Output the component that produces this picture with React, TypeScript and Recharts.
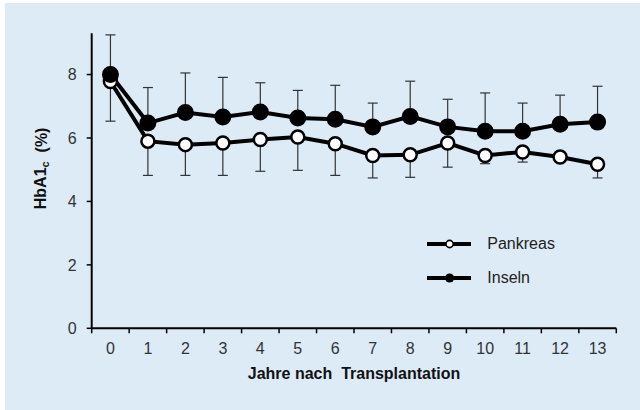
import React from 'react';
import { LineChart, Line, XAxis, YAxis, ErrorBar, Legend, Label } from 'recharts';

const years = [0, 1, 2, 3, 4, 5, 6, 7, 8, 9, 10, 11, 12, 13];
const pankreas = [7.78, 5.9, 5.79, 5.84, 5.95, 6.03, 5.82, 5.45, 5.47, 5.84, 5.45, 5.56, 5.4, 5.17];
const pankreasErrLow = [1.25, 1.08, 0.97, 1.02, 1.0, 1.05, 1.0, 0.71, 0.71, 0.76, 0.26, 0.32, 0.15, 0.43];
const inseln = [8.0, 6.47, 6.8, 6.66, 6.82, 6.63, 6.59, 6.35, 6.68, 6.35, 6.21, 6.21, 6.43, 6.5];
const inselnErrHigh = [1.25, 1.12, 1.25, 1.25, 0.92, 0.87, 1.07, 0.75, 1.11, 0.87, 1.21, 0.89, 0.92, 1.13];
const yTicks = [0, 2, 4, 6, 8];
const seriesNames = ['Pankreas', 'Inseln'];

const data = years.map((y, i) => ({
  year: y,
  pankreas: pankreas[i],
  pErr: [pankreasErrLow[i], 0],
  inseln: inseln[i],
  iErr: [0, inselnErrHigh[i]],
}));

const xTicks = years.flatMap((y) => [y - 0.5, y]).concat([years[years.length - 1] + 0.5]);

const FONT = "'Liberation Sans', Arial, Helvetica, sans-serif";
const TS = 5;
const TM = 9;

const XTick = (props: any) => {
  const { x, y, payload } = props;
  const v = payload.value;
  if (!Number.isInteger(v)) {
    return <line x1={x} x2={x} y1={y - TM - TS} y2={y - TM} stroke="#000" strokeWidth={1.5} />;
  }
  return (
    <text x={x} y={y} dy="0.71em" textAnchor="middle" fill="#333" fontSize={16} fontFamily={FONT}>
      {v}
    </text>
  );
};

const YLabel = (props: any) => {
  const vb = props.viewBox || { x: 0, y: 0, width: 0, height: 0 };
  const cx = vb.x + 36;
  const cy = vb.y + vb.height / 2 - 12.4;
  return (
    <text
      x={cx}
      y={cy}
      transform={`rotate(-90 ${cx} ${cy})`}
      textAnchor="middle"
      dominantBaseline="central"
      fontSize={16}
      fontWeight="bold"
      fontFamily={FONT}
      fill="#111"
    >
      HbA1
      <tspan fontSize={11} dy={4}>c</tspan>
      <tspan dy={-4}>{'\u00A0 (%)'}</tspan>
    </text>
  );
};

const XLabel = (props: any) => {
  const vb = props.viewBox || { x: 0, y: 0, width: 0, height: 0 };
  return (
    <text
      x={vb.x + vb.width / 2}
      y={vb.y + 50.7}
      textAnchor="middle"
      fontSize={16}
      fontWeight="bold"
      fontFamily={FONT}
      fill="#111"
    >
      {'Jahre nach\u00A0 Transplantation'}
    </text>
  );
};

const LegendContent = () => (
  <div style={{ fontFamily: FONT, fontSize: 16, color: '#222' }}>
    {seriesNames.map((name, i) => (
      <div key={name} style={{ display: 'flex', alignItems: 'center', height: 33.4 }}>
        <svg width={45} height={12} style={{ display: 'block' }}>
          <line x1={0} x2={44} y1={6} y2={6} stroke="#000" strokeWidth={4} />
          {i === 0 ? (
            <circle cx={22.6} cy={6} r={3.6} fill="#fff" stroke="#000" strokeWidth={1.6} />
          ) : (
            <circle cx={22.6} cy={6} r={4.6} fill="#000" />
          )}
        </svg>
        <span style={{ marginLeft: 15.6, lineHeight: '20px' }}>{name}</span>
      </div>
    ))}
  </div>
);

export default function App() {
  return (
    <div style={{ position: 'absolute', left: 0, top: 0, width: 640, height: 410, background: '#fff' }}>
      <div style={{ position: 'absolute', left: 5, top: 3, width: 635, height: 407, background: '#DDEBF7' }}>
        <LineChart width={635} height={407} data={data} margin={{ top: 30.3, right: 23.7, bottom: 0, left: 0 }}>
          <XAxis
            dataKey="year"
            type="number"
            domain={[-0.5, 13.5]}
            ticks={xTicks}
            interval={0}
            tickSize={TS}
            tickMargin={TM}
            tickLine={{ stroke: 'none' }}
            tick={<XTick />}
            axisLine={{ stroke: '#000', strokeWidth: 2 }}
            height={81.7}
          >
            <Label content={<XLabel />} />
          </XAxis>
          <YAxis
            type="number"
            domain={[0, 9.3]}
            ticks={yTicks}
            interval={0}
            width={86.7}
            tickSize={5}
            tickMargin={10}
            tickLine={{ stroke: '#000', strokeWidth: 1.5 }}
            axisLine={{ stroke: '#000', strokeWidth: 2 }}
            tick={{ fill: '#333', fontSize: 16, fontFamily: FONT }}
          >
            <Label content={<YLabel />} />
          </YAxis>
          <Line
            dataKey="pankreas"
            stroke="none"
            dot={false}
            activeDot={false}
            legendType="none"
            isAnimationActive={false}
          >
            <ErrorBar dataKey="pErr" width={5} stroke="#333" strokeWidth={1.2} direction="y" isAnimationActive={false} />
          </Line>
          <Line
            dataKey="inseln"
            stroke="none"
            dot={false}
            activeDot={false}
            legendType="none"
            isAnimationActive={false}
          >
            <ErrorBar dataKey="iErr" width={5} stroke="#333" strokeWidth={1.2} direction="y" isAnimationActive={false} />
          </Line>
          <Line
            dataKey="pankreas"
            name="Pankreas"
            stroke="#000"
            strokeWidth={4}
            dot={{ r: 6.5, fill: '#fff', stroke: '#000', strokeWidth: 2.5 }}
            activeDot={false}
            isAnimationActive={false}
          />
          <Line
            dataKey="inseln"
            name="Inseln"
            stroke="#000"
            strokeWidth={4}
            dot={{ r: 7.5, fill: '#000', stroke: '#000', strokeWidth: 2 }}
            activeDot={false}
            isAnimationActive={false}
          />
          <Legend
            layout="vertical"
            align="center"
            verticalAlign="middle"
            content={<LegendContent />}
            wrapperStyle={{ position: 'absolute', left: 421.7, top: 224.6, width: 160, height: 70 }}
          />
        </LineChart>
      </div>
    </div>
  );
}
